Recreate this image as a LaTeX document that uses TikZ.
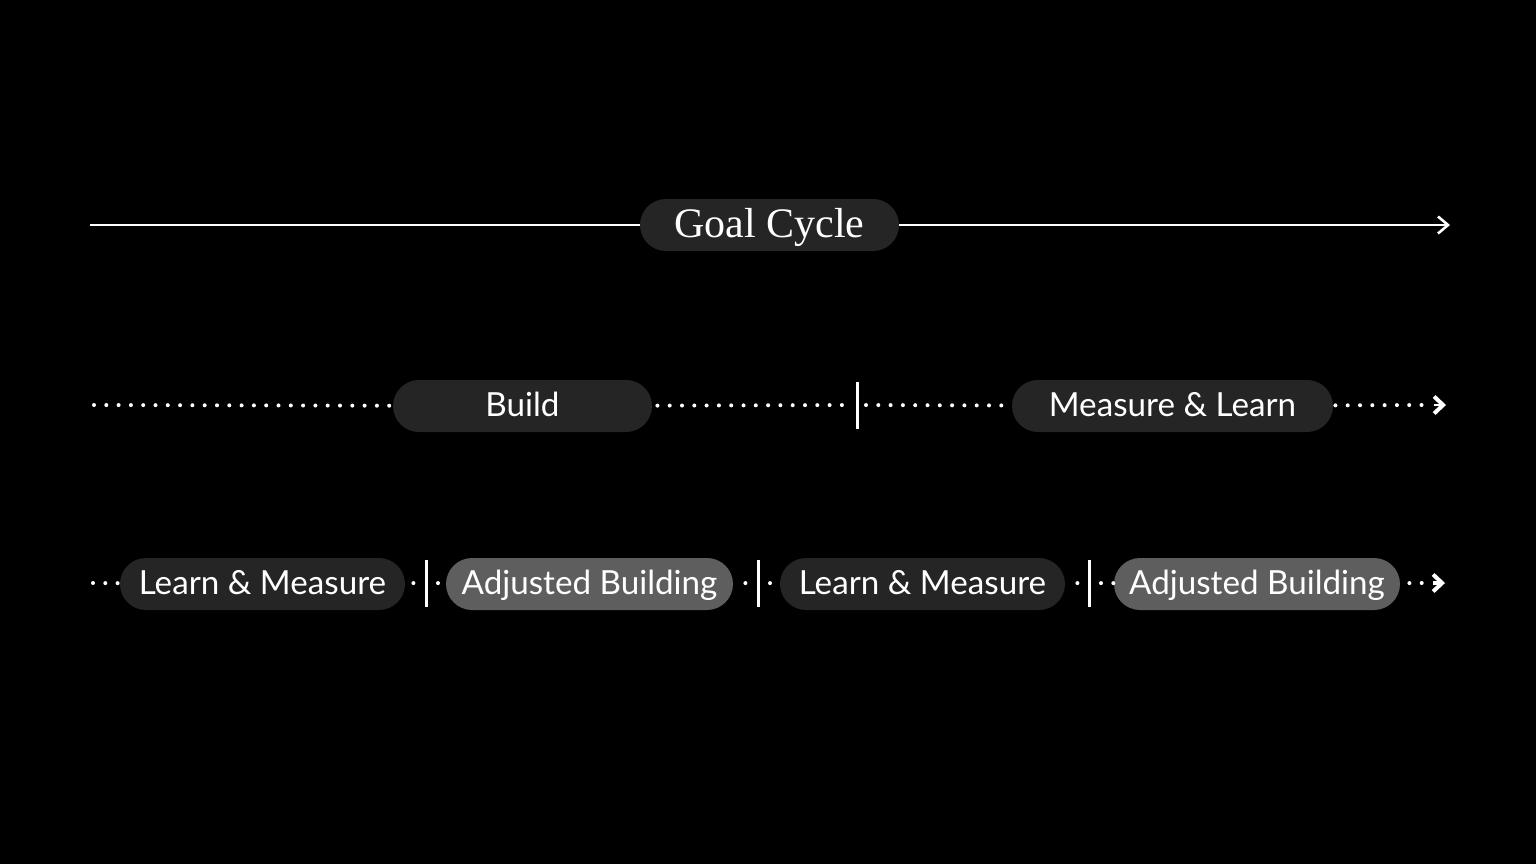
\documentclass[tikz,border=0pt]{standalone}
\usepackage{fontspec}
\setmainfont{Liberation Serif}
\newfontfamily\pillfont{Lato}
\usetikzlibrary{arrows.meta}
\definecolor{pilldark}{HTML}{252525}
\definecolor{pilllight}{HTML}{5E5E5E}
\begin{document}
\begin{tikzpicture}[x=0.5pt,y=-0.5pt,
  pill/.style={draw=none, rounded corners=13pt, minimum height=26pt, inner sep=0pt,
    text height=12pt, text depth=1.5pt,
    text=white, font=\pillfont\fontsize{16.6}{19}\selectfont},
  dark/.style={pill, fill=pilldark},
  light/.style={pill, fill=pilllight},
  solidline/.style={draw=white, line width=1.4pt},
  dotline/.style={draw=white, line width=2pt, line cap=round, dash pattern=on 0pt off 6.15pt},
  tickline/.style={draw=white, line width=1.5pt},
  thintip/.style={-{Straight Barb[length=5pt,width=8.5pt,line width=1.3pt]}},
  boldtip/.style={-{Straight Barb[length=4.5pt,width=8.5pt,line width=2pt]}}
]
\fill[black] (0,0) rectangle (1536,864);
\useasboundingbox (0,0) rectangle (1536,864);

% Row 1
\node[dark, minimum width=129.5pt, text height=14.5pt, text depth=1.6pt,
      font=\rmfamily\fontsize{21}{24}\selectfont] (goal) at (769.5,225) {Goal Cycle};
\coordinate (g0) at (90,225);
\coordinate (g1) at (1450,225);
\draw[solidline] (g0) -- (goal);
\draw[solidline, thintip] (goal) -- (g1);

% Row 2
\node[dark, minimum width=129.5pt] (build) at (522.5,406) {Build};
\node[dark, minimum width=160.5pt] (ml) at (1172.5,406) {Measure \& Learn};
\coordinate (b0) at (94,405);
\coordinate (t1) at (857,405);
\coordinate (b1) at (1423,405);
\coordinate (b2) at (1446,405);
\draw[tickline] (857,382) -- (857,429);
\draw[dotline, shorten >=1pt] (b0) -- (build);
\draw[dotline, shorten <=2.5pt, shorten >=3pt] (build) -- (t1);
\draw[dotline, shorten <=4.5pt, shorten >=2pt] (t1) -- (ml);
\draw[dotline, shorten <=1pt] (ml) -- (b1);
\draw[solidline, boldtip] (1434,405) -- (b2);

% Row 3
\node[dark, minimum width=142.5pt] (lm1) at (262.5,584) {Learn \& Measure};
\node[light, minimum width=143.5pt] (ab1) at (589.5,584) {Adjusted Building};
\node[dark, minimum width=142.5pt] (lm2) at (922.5,584) {Learn \& Measure};
\node[light, minimum width=143pt] (ab2) at (1257,584) {Adjusted Building};
\coordinate (c0) at (93,583);
\coordinate (u1) at (426,583);
\coordinate (u2) at (758,583);
\coordinate (u3) at (1089,583);
\coordinate (c1) at (1422,583);
\coordinate (c2) at (1445,583);
\foreach \x in {426,758,1089} \draw[tickline] (\x,560) -- (\x,607);
\draw[dotline] (c0) -- (lm1);
\draw[dotline, shorten <=4pt, shorten >=3pt] (lm1) -- (u1);
\draw[dotline, shorten <=6pt, shorten >=2pt] (u1) -- (ab1);
\draw[dotline, shorten <=6pt, shorten >=3pt] (ab1) -- (u2);
\draw[dotline, shorten <=6pt, shorten >=2pt] (u2) -- (lm2);
\draw[dotline, shorten <=6pt, shorten >=3pt] (lm2) -- (u3);
\draw[dotline, shorten <=6pt] (u3) -- (ab2);
\draw[dotline, shorten <=4.5pt] (ab2) -- (c1);
\draw[solidline, boldtip, line width=2pt] (1433,583) -- (c2);
\end{tikzpicture}
\end{document}
